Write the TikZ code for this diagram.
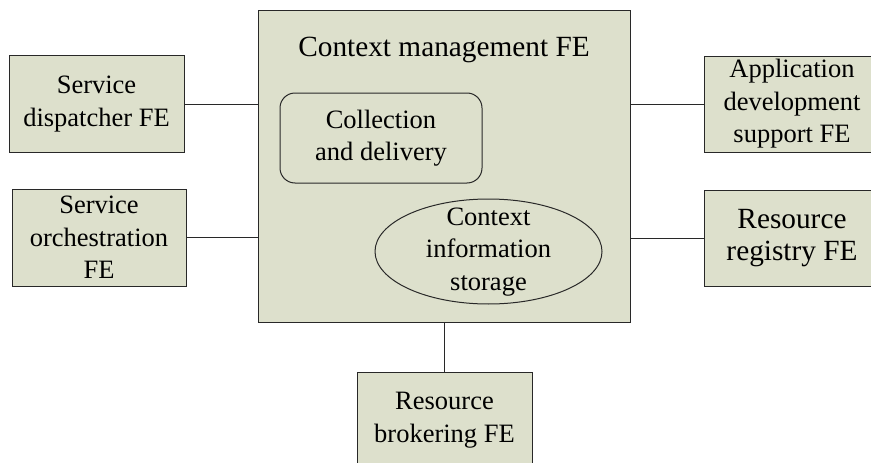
\documentclass[tikz,border=0pt]{standalone}
\usepackage{fontspec}
\setmainfont{Liberation Serif}
\usetikzlibrary{shapes.geometric}
\definecolor{boxfill}{RGB}{221,224,204}
\definecolor{edge}{RGB}{40,40,40}
\tikzset{
  fe/.style={draw=edge, line width=1pt, fill=boxfill, align=center, inner sep=0pt,
    font=\fontsize{26.5}{32.5}\selectfont},
  big/.style={font=\fontsize{29.3}{32.5}\selectfont},
  link/.style={draw=edge, line width=1pt},
}
\begin{document}
\begin{tikzpicture}[x=1pt,y=-1pt]
\clip (0,0) rectangle (871,463);
\fill[white] (0,0) rectangle (871,463);
% main
\node[fe, minimum width=372pt, minimum height=312pt] (main) at (444,166) {};
\node[align=center, big] (title) at (444,50) {Context management FE};
\node[fe, rounded corners=15pt, minimum width=202pt, minimum height=90pt] (coll) at (381,138)
  {Collection\\and delivery};
\node[draw=edge, line width=1pt, ellipse, inner sep=0pt, minimum width=227pt, minimum height=105pt] (store) at (488.5,251.5) {};
\node[align=center, font=\fontsize{26.5}{32.5}\selectfont] (storetext) at (488.5,252) {Context\\information\\storage};
% side boxes
\node[fe, minimum width=175pt, minimum height=97pt] (disp) at (96.5,104) {Service\\dispatcher FE};
\node[fe, minimum width=174pt, minimum height=97pt] (orch) at (99,237.5) {Service\\orchestration\\FE};
\node[fe, minimum width=176pt, minimum height=96pt] (app) at (792,104) {Application\\development\\support FE};
\node[fe, big, minimum width=176pt, minimum height=96pt] (reg) at (792,238) {Resource\\registry FE};
\node[fe, minimum width=175pt, minimum height=96pt] (broker) at (444.5,420) {Resource\\brokering FE};
% links
\draw[link] (disp.east) -- (disp.east -| main.west);
\draw[link] (orch.east) -- (orch.east -| main.west);
\draw[link] (app.west) -- (app.west -| main.east);
\draw[link] (reg.west) -- (reg.west -| main.east);
\draw[link] (broker.north -| main.south) -- (main.south);
\end{tikzpicture}
\end{document}
